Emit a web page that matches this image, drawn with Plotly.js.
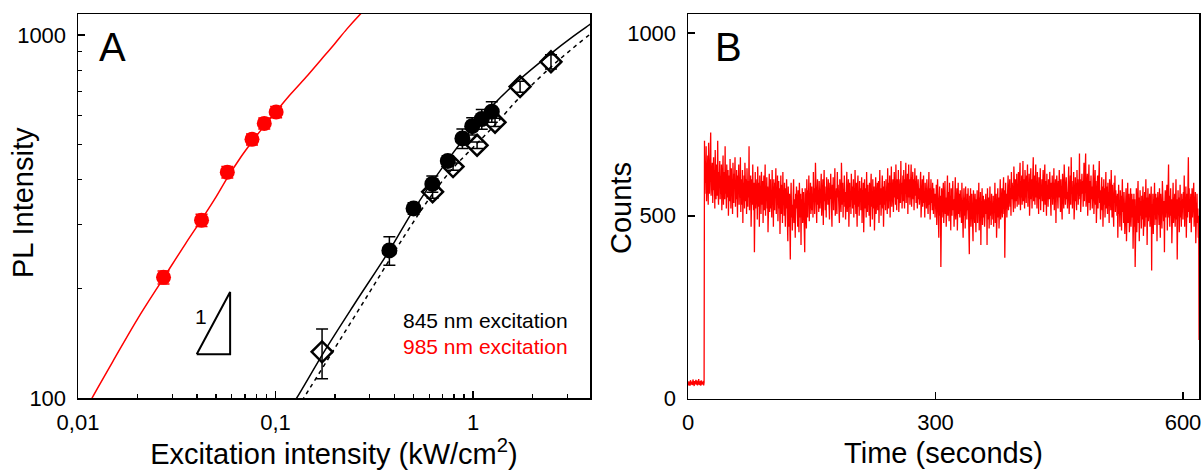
<!DOCTYPE html>
<html>
<head>
<meta charset="utf-8">
<script src="https://cdn.plot.ly/plotly-3.0.1.min.js"></script>
<style>html,body{margin:0;padding:0;background:#fff;}#chart{width:1203px;height:470px;}</style>
</head>
<body>
<div id="chart"></div>
<script>
// ---- Panel A data ----
const redX = [0.0271, 0.0422, 0.057, 0.076, 0.0877, 0.1007];
const redY = [215, 309, 419, 516, 571, 614];
const redErr = [9, 12, 15, 18, 20, 22];

const circX = [0.377, 0.500, 0.622, 0.745, 0.883, 0.990, 1.107, 1.244];
const circY = [255, 333, 389, 450, 519, 561, 587, 615];
const circErr = [23, 12, 20, 15, 32, 31, 37, 40];

const diamX = [0.172, 0.624, 0.792, 1.048, 1.292, 1.73, 2.48];
const diamY = [134, 370, 434, 497, 575, 721, 844];
const diamErr = [21, 15, 10, 10, 15, 25, 38];

// fit curves
const redFitX = [0.0112, 0.01178, 0.015, 0.02, 0.0271, 0.035, 0.0422, 0.05, 0.057, 0.066, 0.076, 0.0877, 0.1007, 0.12, 0.1456, 0.17, 0.199, 0.23, 0.272, 0.30];
const redFitY = [95, 100, 126, 165, 214, 266, 310, 358, 404, 457, 508, 562, 616, 690, 775, 855, 945, 1040, 1150, 1215];

const solidFitX = [0.12, 0.128, 0.176, 0.25, 0.377, 0.5, 0.75, 1.0, 1.25, 1.7, 2.45, 3.2, 3.91, 4.2];
const solidFitY = [95, 100, 134, 181, 255, 330, 455, 556, 638, 750, 885, 990, 1070, 1100];

const dashFitX = [0.13, 0.139, 0.191, 0.3, 0.45, 0.624, 0.792, 1.0, 1.3, 1.75, 2.5, 3.2, 3.91, 4.2];
const dashFitY = [94, 100, 132, 196, 280, 365, 430, 490, 568, 680, 820, 920, 1005, 1035];

// slope triangle
const triX = [0.0399, 0.0589, 0.0589, 0.0399];
const triY = [132, 132, 196, 132];

// tick labels
const aXTicks = [0.01, 0.1, 1];
const aXTickText = ["0,01", "0,1", "1"];
const aXMinor = [0.02,0.03,0.04,0.05,0.06,0.07,0.08,0.09,0.2,0.3,0.4,0.5,0.6,0.7,0.8,0.9,2,3];
const aYTicks = [100, 1000];
const aYTickText = ["100", "1000"];
const aYMinor = [200,300,400,500,600,700,800,900];

// ---- Panel B data: counts every 0.5 s ----
const dt = 0.5;
const counts = [
42,36,47,39,44,35,50,41,38,46,43,37,52,40,45,34,48,42,39,51,
44,38,49,36,46,41,53,37,43,40,47,35,50,42,38,45,41,48,36,44,
705,560,650,590,690,540,620,575,665,530,700,600,560,640,590,728,555,615,580,645,
535,610,660,570,625,520,680,585,545,640,600,555,705,570,530,620,590,650,545,605,
560,640,515,600,575,665,530,620,585,545,690,560,605,520,640,580,550,625,500,595,
610,540,655,575,520,630,565,600,505,645,570,535,615,590,660,525,580,545,625,560,
495,610,570,640,530,590,550,660,510,600,575,530,625,480,590,555,610,520,645,565,
540,600,505,630,570,525,595,550,690,515,580,545,610,470,575,600,530,640,550,515,
590,400,560,620,520,585,545,600,490,635,560,525,590,470,610,545,575,505,620,550,
530,595,480,570,610,515,560,640,500,575,545,605,520,580,455,590,550,615,510,565,
600,520,560,495,625,545,580,470,600,540,515,590,560,630,505,570,530,610,485,555,
595,520,575,450,560,610,505,545,585,480,620,530,565,500,590,540,470,575,520,600,
500,555,430,580,520,470,560,510,380,540,590,495,530,460,565,515,600,480,545,505,
440,560,520,580,490,535,470,570,510,455,590,525,495,560,420,545,505,575,480,530,
565,490,540,400,575,510,550,465,600,525,495,570,530,610,485,560,520,590,505,545,
580,515,560,495,620,540,575,505,550,645,525,590,480,560,600,530,570,510,595,545,
520,590,550,615,500,570,535,600,475,560,625,540,580,515,560,495,605,545,575,530,
600,520,565,490,590,545,615,525,560,470,585,540,605,515,570,550,630,500,560,535,
575,505,620,550,585,520,560,480,600,540,575,510,645,555,530,590,495,570,545,610,
525,565,490,595,550,620,510,575,535,600,470,560,590,525,565,505,615,545,580,520,
560,600,495,575,530,625,545,505,590,550,470,580,610,525,560,500,595,540,575,515,
545,605,480,570,530,590,455,560,600,520,575,545,495,620,550,510,585,530,565,500,
590,540,470,575,615,525,560,490,600,545,520,580,460,565,535,605,505,570,545,590,
515,560,595,480,555,625,530,575,500,560,540,610,520,580,470,550,595,530,565,515,
600,545,575,505,630,555,520,590,540,610,495,570,560,635,525,585,545,600,510,575,
620,550,590,530,640,560,515,600,575,545,625,510,580,555,600,535,650,565,590,520,
570,610,540,625,580,520,600,560,645,535,590,575,615,505,585,640,550,600,530,610,
560,640,525,595,570,620,545,600,515,580,630,555,595,535,610,565,520,585,600,545,
575,530,605,560,620,495,580,545,600,525,570,610,535,560,495,590,550,575,520,600,
545,580,505,565,620,530,575,490,555,600,535,570,515,590,545,505,575,530,560,495,
560,520,585,475,550,600,510,565,440,540,580,500,555,360,530,575,495,545,515,590,
480,560,525,595,505,550,470,575,530,610,500,545,565,485,590,520,555,460,575,535,
500,560,595,515,545,470,580,530,605,490,555,520,575,460,540,590,505,560,530,495,
570,515,545,480,590,525,560,440,535,575,500,550,465,580,520,545,490,560,515,575,
485,540,395,555,510,575,470,530,560,495,545,430,570,505,535,480,560,520,455,545,
505,570,480,535,520,590,460,550,500,565,420,540,510,575,475,530,555,495,545,470,
530,490,560,505,545,420,575,515,490,550,465,535,580,500,540,475,560,510,530,490,
555,470,540,510,590,480,530,560,440,545,505,575,495,550,465,530,515,600,490,545,
520,575,495,560,530,605,505,570,385,545,590,520,560,495,580,535,610,515,565,540,
600,525,575,500,620,545,590,530,560,510,635,550,585,520,600,565,540,615,525,580,
555,620,530,590,570,645,515,595,550,610,530,575,650,540,600,565,520,625,560,590,
535,610,575,640,525,590,555,615,500,580,560,630,545,600,520,595,565,660,540,585,
610,530,575,640,550,595,520,620,565,590,505,605,575,545,630,515,585,560,600,540,
580,625,510,570,555,640,530,595,560,500,615,545,585,525,600,570,545,620,535,575,
500,590,560,610,530,575,545,630,515,590,555,600,480,570,610,540,585,520,595,550,
625,535,570,510,600,560,585,490,615,545,575,520,640,555,590,530,575,605,545,565,
520,600,555,635,505,580,545,610,530,660,560,595,520,575,550,620,490,585,560,605,
540,590,515,625,565,600,530,580,545,670,555,600,510,575,540,615,560,595,525,585,
645,540,600,560,670,525,590,550,615,500,580,560,640,535,595,515,570,610,545,580,
520,600,560,640,505,585,550,625,530,595,480,570,545,610,520,590,555,650,535,570,
490,575,540,605,515,580,470,560,600,530,575,495,555,620,520,580,545,505,590,530,
565,480,600,540,575,515,625,550,495,585,535,560,470,590,545,610,510,570,530,555,
500,560,440,545,585,505,530,470,570,520,555,460,540,600,510,545,480,565,525,450,
555,500,575,430,540,515,590,480,535,560,455,545,505,575,470,530,560,495,545,410,
520,560,470,545,360,530,500,575,455,540,515,595,480,550,430,525,570,500,540,465,
555,490,530,580,445,545,510,565,470,535,600,495,550,420,530,575,485,545,505,560,
470,540,515,580,350,530,495,560,450,545,510,590,475,535,560,490,550,430,525,565,
500,545,475,575,520,440,560,505,540,465,595,520,555,485,540,400,530,570,495,550,
515,585,460,540,510,640,495,555,470,530,575,500,545,425,560,520,590,480,540,505,
560,470,535,600,490,545,380,525,570,500,550,455,530,585,495,540,470,560,515,545,
490,565,525,610,470,545,505,580,440,535,560,495,550,660,510,575,480,540,505,560,
455,530,575,495,545,510,590,470,540,500,565,425,530,505,560,480,520,440,500,160
];
const times = counts.map((_, i) => i * dt);

const bXTicks = [0, 300, 600];
const bYTicks = [0, 500, 1000];

const FONT = "Arial, 'Liberation Sans', sans-serif";

const traces = [
  {x: redFitX, y: redFitY, mode: 'lines', line: {color: '#ff0000', width: 1.5, shape: 'spline'}, xaxis: 'x', yaxis: 'y', hoverinfo: 'skip'},
  {x: solidFitX, y: solidFitY, mode: 'lines', line: {color: '#000', width: 1.5, shape: 'spline'}, xaxis: 'x', yaxis: 'y', hoverinfo: 'skip'},
  {x: dashFitX, y: dashFitY, mode: 'lines', line: {color: '#000', width: 1.5, dash: '4px,4px', shape: 'spline'}, xaxis: 'x', yaxis: 'y', hoverinfo: 'skip'},
  {x: triX, y: triY, mode: 'lines', line: {color: '#000', width: 2}, xaxis: 'x', yaxis: 'y', hoverinfo: 'skip'},
  {x: diamX, y: diamY, mode: 'markers', name: 'diamonds',
   marker: {symbol: 'diamond-open', size: 16, color: '#000', line: {width: 2.5, color: '#000'}},
   error_y: {type: 'data', array: diamErr, visible: true, color: '#000', thickness: 1.5, width: 6},
   xaxis: 'x', yaxis: 'y'},
  {x: circX, y: circY, mode: 'markers', name: '845 nm excitation',
   marker: {symbol: 'circle', size: 16, color: '#000'},
   error_y: {type: 'data', array: circErr, visible: true, color: '#000', thickness: 1.5, width: 6},
   xaxis: 'x', yaxis: 'y'},
  {x: redX, y: redY, mode: 'markers', name: '985 nm excitation',
   marker: {symbol: 'circle', size: 15, color: '#ff0000'},
   error_y: {type: 'data', array: redErr, visible: true, color: '#ff0000', thickness: 1.5, width: 6},
   xaxis: 'x', yaxis: 'y'},
  {x: times, y: counts, mode: 'lines', line: {color: '#ff0000', width: 1.3}, xaxis: 'x2', yaxis: 'y2', name: 'Counts'}
];

const axisCommon = {
  showline: true, mirror: true, linecolor: '#000', linewidth: 1.5,
  showgrid: false, zeroline: false, ticks: 'inside', ticklen: 7, tickwidth: 1.5, tickcolor: '#000',
  tickfont: {family: FONT, size: 22, color: '#000'}
};

const layout = {
  width: 1203, height: 470,
  margin: {l: 0, r: 0, t: 0, b: 0},
  paper_bgcolor: '#fff', plot_bgcolor: '#fff',
  showlegend: false,
  font: {family: FONT, color: '#000'},
  xaxis: Object.assign({}, axisCommon, {
    type: 'log', domain: [78/1203, 590/1203], range: [-2, 0.592], anchor: 'y',
    tickmode: 'array', tickvals: aXTicks, ticktext: aXTickText, ticklabelstandoff: 4,
    minor: {tickvals: aXMinor, ticks: 'inside', ticklen: 4, tickwidth: 1.2, tickcolor: '#000'},
    title: {text: 'Excitation intensity (kW/cm<sup>2</sup>)', font: {family: FONT, size: 29, color: '#000'}, standoff: 8}
  }),
  yaxis: Object.assign({}, axisCommon, {
    type: 'log', domain: [1 - 398/470, 1 - 14/470], range: [2, 3.058], anchor: 'x',
    tickmode: 'array', tickvals: aYTicks, ticktext: aYTickText, ticklabelstandoff: 6,
    minor: {tickvals: aYMinor, ticks: 'inside', ticklen: 4, tickwidth: 1.2, tickcolor: '#000'}
  }),
  xaxis2: Object.assign({}, axisCommon, {
    domain: [688/1203, 1199/1203], range: [0, 619.4], anchor: 'y2',
    tickmode: 'array', tickvals: bXTicks, ticklabelstandoff: 4,
    title: {text: 'Time (seconds)', font: {family: FONT, size: 29, color: '#000'}, standoff: 8}
  }),
  yaxis2: Object.assign({}, axisCommon, {
    domain: [1 - 398.5/470, 1 - 14/470], range: [0, 1052], anchor: 'x2',
    tickmode: 'array', tickvals: bYTicks, ticklabelstandoff: 6
  }),
  annotations: [
    {text: 'PL Intensity', xref: 'paper', yref: 'paper', x: 23/1203, y: 1 - 203/470, textangle: -90, showarrow: false, font: {family: FONT, size: 29, color: '#000'}, xanchor: 'center', yanchor: 'middle'},
    {text: 'Counts', xref: 'paper', yref: 'paper', x: 621/1203, y: 1 - 208/470, textangle: -90, showarrow: false, font: {family: FONT, size: 29, color: '#000'}, xanchor: 'center', yanchor: 'middle'},
    {text: 'A', xref: 'paper', yref: 'paper', x: 112/1203, y: 1 - 47/470, showarrow: false, font: {family: FONT, size: 40, color: '#000'}, xanchor: 'center', yanchor: 'middle'},
    {text: 'B', xref: 'paper', yref: 'paper', x: 728/1203, y: 1 - 47/470, showarrow: false, font: {family: FONT, size: 40, color: '#000'}, xanchor: 'center', yanchor: 'middle'},
    {text: '1', xref: 'paper', yref: 'paper', x: 201/1203, y: 1 - 316/470, showarrow: false, font: {family: FONT, size: 21, color: '#000'}, xanchor: 'center', yanchor: 'middle'},
    {text: '845 nm excitation', xref: 'paper', yref: 'paper', x: 401/1203, y: 1 - 320/470, showarrow: false, font: {family: FONT, size: 21, color: '#000'}, xanchor: 'left', yanchor: 'middle'},
    {text: '985 nm excitation', xref: 'paper', yref: 'paper', x: 401/1203, y: 1 - 346/470, showarrow: false, font: {family: FONT, size: 21, color: '#ff0000'}, xanchor: 'left', yanchor: 'middle'}
  ]
};

Plotly.newPlot('chart', traces, layout, {staticPlot: true, displayModeBar: false});
</script>
</body>
</html>
